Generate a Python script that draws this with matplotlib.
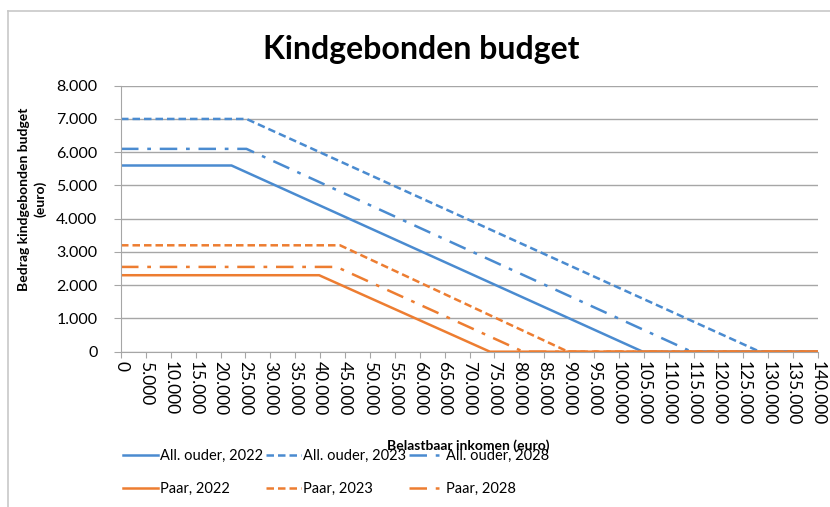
import matplotlib.pyplot as plt
from matplotlib.ticker import FuncFormatter
from matplotlib.lines import Line2D

# Belastbaar inkomen (euro) op de knikpunten van elke lijn
inkomen_ao_2022 = [0, 22200, 104800, 140000]
budget_ao_2022 = [5600, 5600, 0, 0]
inkomen_ao_2023 = [0, 25200, 128300, 140000]
budget_ao_2023 = [7000, 7000, 0, 0]
inkomen_ao_2028 = [0, 25200, 114600, 140000]
budget_ao_2028 = [6100, 6100, 0, 0]

inkomen_paar_2022 = [0, 39800, 74100, 140000]
budget_paar_2022 = [2300, 2300, 0, 0]
inkomen_paar_2023 = [0, 44000, 89800, 140000]
budget_paar_2023 = [3200, 3200, 0, 0]
inkomen_paar_2028 = [0, 43300, 80800, 140000]
budget_paar_2028 = [2550, 2550, 0, 0]

x_ticks = list(range(0, 140001, 5000))
y_ticks = list(range(0, 8001, 1000))

blauw = '#4a8bd0'
oranje = '#ed7d31'
dash = (0, (3, 1.6))
dashdot = (0, (7, 3.5, 1.5, 3.5))

plt.rcParams['font.family'] = ['Lato', 'DejaVu Sans']

fig = plt.figure(figsize=(8.3, 5.07), dpi=100)
ax = fig.add_axes([121 / 830, 1 - 351.7 / 507, (818 - 121) / 830, (351.7 - 85.7) / 507])

lw = 1.8
l1, = ax.plot(inkomen_ao_2022, budget_ao_2022, color=blauw, lw=lw, label='All. ouder, 2022')
l2, = ax.plot(inkomen_ao_2023, budget_ao_2023, color=blauw, lw=lw, linestyle=dash, label='All. ouder, 2023')
l3, = ax.plot(inkomen_ao_2028, budget_ao_2028, color=blauw, lw=lw, linestyle=dashdot, label='All. ouder, 2028')
l4, = ax.plot(inkomen_paar_2022, budget_paar_2022, color=oranje, lw=lw, label='Paar, 2022')
l5, = ax.plot(inkomen_paar_2023, budget_paar_2023, color=oranje, lw=lw, linestyle=dash, label='Paar, 2023')
l6, = ax.plot(inkomen_paar_2028, budget_paar_2028, color=oranje, lw=lw, linestyle=dashdot, label='Paar, 2028')
# doorgetrokken nul-lijn van Paar 2022 ligt bovenop
ax.plot(inkomen_paar_2022[2:], budget_paar_2022[2:], color=oranje, lw=lw, zorder=5)

ax.set_xlim(0, 140000)
ax.set_ylim(0, 8000)
ax.set_xticks(x_ticks)
ax.set_yticks(y_ticks)

fmt = FuncFormatter(lambda v, p: '0' if v == 0 else f'{int(v):,}'.replace(',', '.'))
ax.xaxis.set_major_formatter(fmt)
ax.yaxis.set_major_formatter(fmt)
ax.tick_params(axis='x', labelrotation=-90, labelsize=12.5, length=4, color='#a6a6a6', pad=3)
ax.tick_params(axis='y', labelsize=11.5, length=5, color='#a6a6a6', pad=12)
for lab in ax.get_xticklabels():
    lab.set_verticalalignment('top')

ax.grid(axis='y', color='#a6a6a6', lw=1)
ax.set_axisbelow(True)
for s in ['top', 'right']:
    ax.spines[s].set_visible(False)
for s in ['left', 'bottom']:
    ax.spines[s].set_color('#a6a6a6')

fig.text(0.508, 0.903, 'Kindgebonden budget', ha='center', va='center', fontsize=23, fontweight='bold')
fig.text(0.039, 0.607, 'Bedrag kindgebonden budget\n(euro)', ha='center', va='center',
         rotation=90, fontsize=10, fontweight='bold', linespacing=1.3)
fig.text(0.564, 0.120, 'Belastbaar inkomen (euro)', ha='center', va='center', fontsize=10, fontweight='bold')

fig.legend(handles=[l1, l4, l2, l5, l3, l6], ncol=3, loc='center', bbox_to_anchor=(0.405, 0.068),
           frameon=False, fontsize=10.5, handlelength=2.4, handletextpad=0.15,
           columnspacing=0.2, labelspacing=1.35)

# rand om de grafiek
fig.add_artist(Line2D([8 / 830, 8 / 830], [0, 1 - 11 / 507], color='#c8c8c8', lw=1.2))
fig.add_artist(Line2D([8 / 830, 1], [1 - 11 / 507, 1 - 11 / 507], color='#c8c8c8', lw=1.2))

fig.savefig('out.png', dpi=100)
